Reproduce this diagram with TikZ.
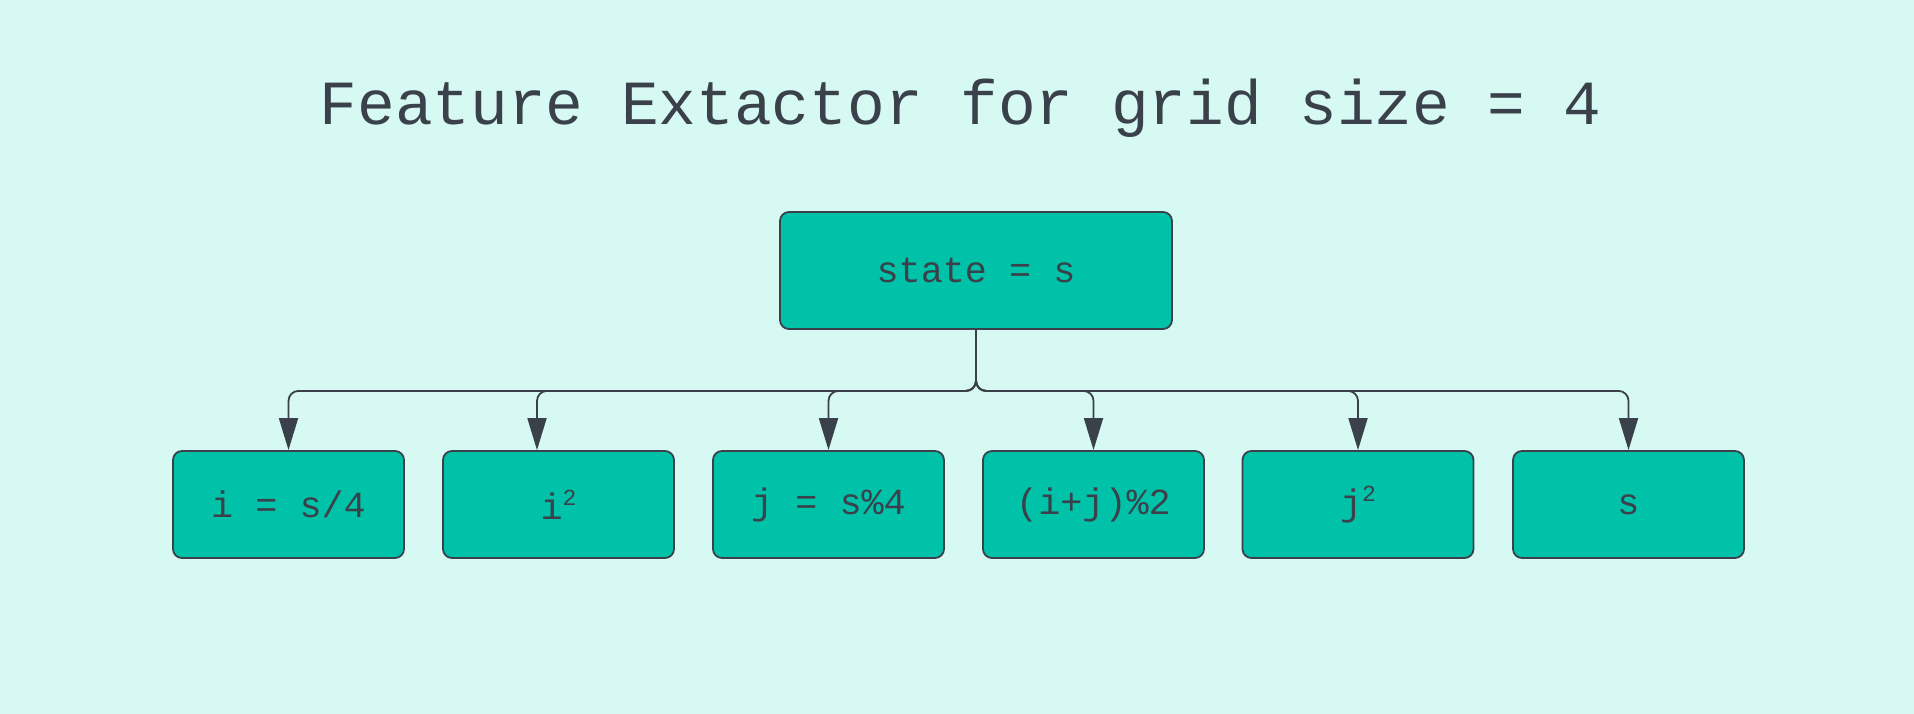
\documentclass[tikz,border=0pt]{standalone}
\usepackage{fontspec}
\newfontfamily\diagmono{Liberation Mono}
\usetikzlibrary{arrows.meta}
\definecolor{bgc}{HTML}{D6F9F3}
\definecolor{boxc}{HTML}{00C2A8}
\definecolor{inkc}{HTML}{3A414A}
\newcommand{\sqr}{\raisebox{0.38em}{\fontsize{23}{23}\selectfont 2}}
\tikzset{
  box/.style={draw=inkc, line width=1.8pt, fill=boxc, rounded corners=9pt,
    minimum height=107pt, minimum width=231pt, inner sep=0pt,
    text=inkc, font=\diagmono\fontsize{36.8}{40}\selectfont},
  link/.style={draw=inkc, line width=1.8pt, rounded corners=10pt,
    -{Triangle[length=32pt,width=19pt]}}
}
\begin{document}
\begin{tikzpicture}[x=1pt,y=-1pt]
\fill[bgc] (0,0) rectangle (1914,714);
\useasboundingbox (0,0) rectangle (1914,714);
\node[anchor=base, text=inkc, font=\diagmono\fontsize{62.8}{72}\selectfont] (title) at (960.5,125) {Feature Extactor for grid size = 4};
\node[box, minimum width=392pt, minimum height=117pt] (top) at (976,270.5) {state = s};
\node[box] (c1) at (288.5,504.5) {i = s/4};
\node[box] (c2) at (558.5,504.5) {i\sqr};
\node[box] (c3) at (828.5,504.5) {j = s\%4};
\node[box, minimum width=221pt] (c4) at (1093.5,504.5) {(i+j)\%2};
\node[box] (c5) at (1358,504.5) {j\sqr};
\node[box] (c6) at (1628.5,504.5) {s};
\draw[link] (top.south) -- ++(0,61) -| (c1.north);
\draw[link] (top.south) -- ++(0,61) -| ([xshift=-21.5pt]c2.north);
\draw[link] (top.south) -- ++(0,61) -| (c3.north);
\draw[link] (top.south) -- ++(0,61) -| (c4.north);
\draw[link] (top.south) -- ++(0,61) -| (c5.north);
\draw[link] (top.south) -- ++(0,61) -| (c6.north);
\end{tikzpicture}
\end{document}
